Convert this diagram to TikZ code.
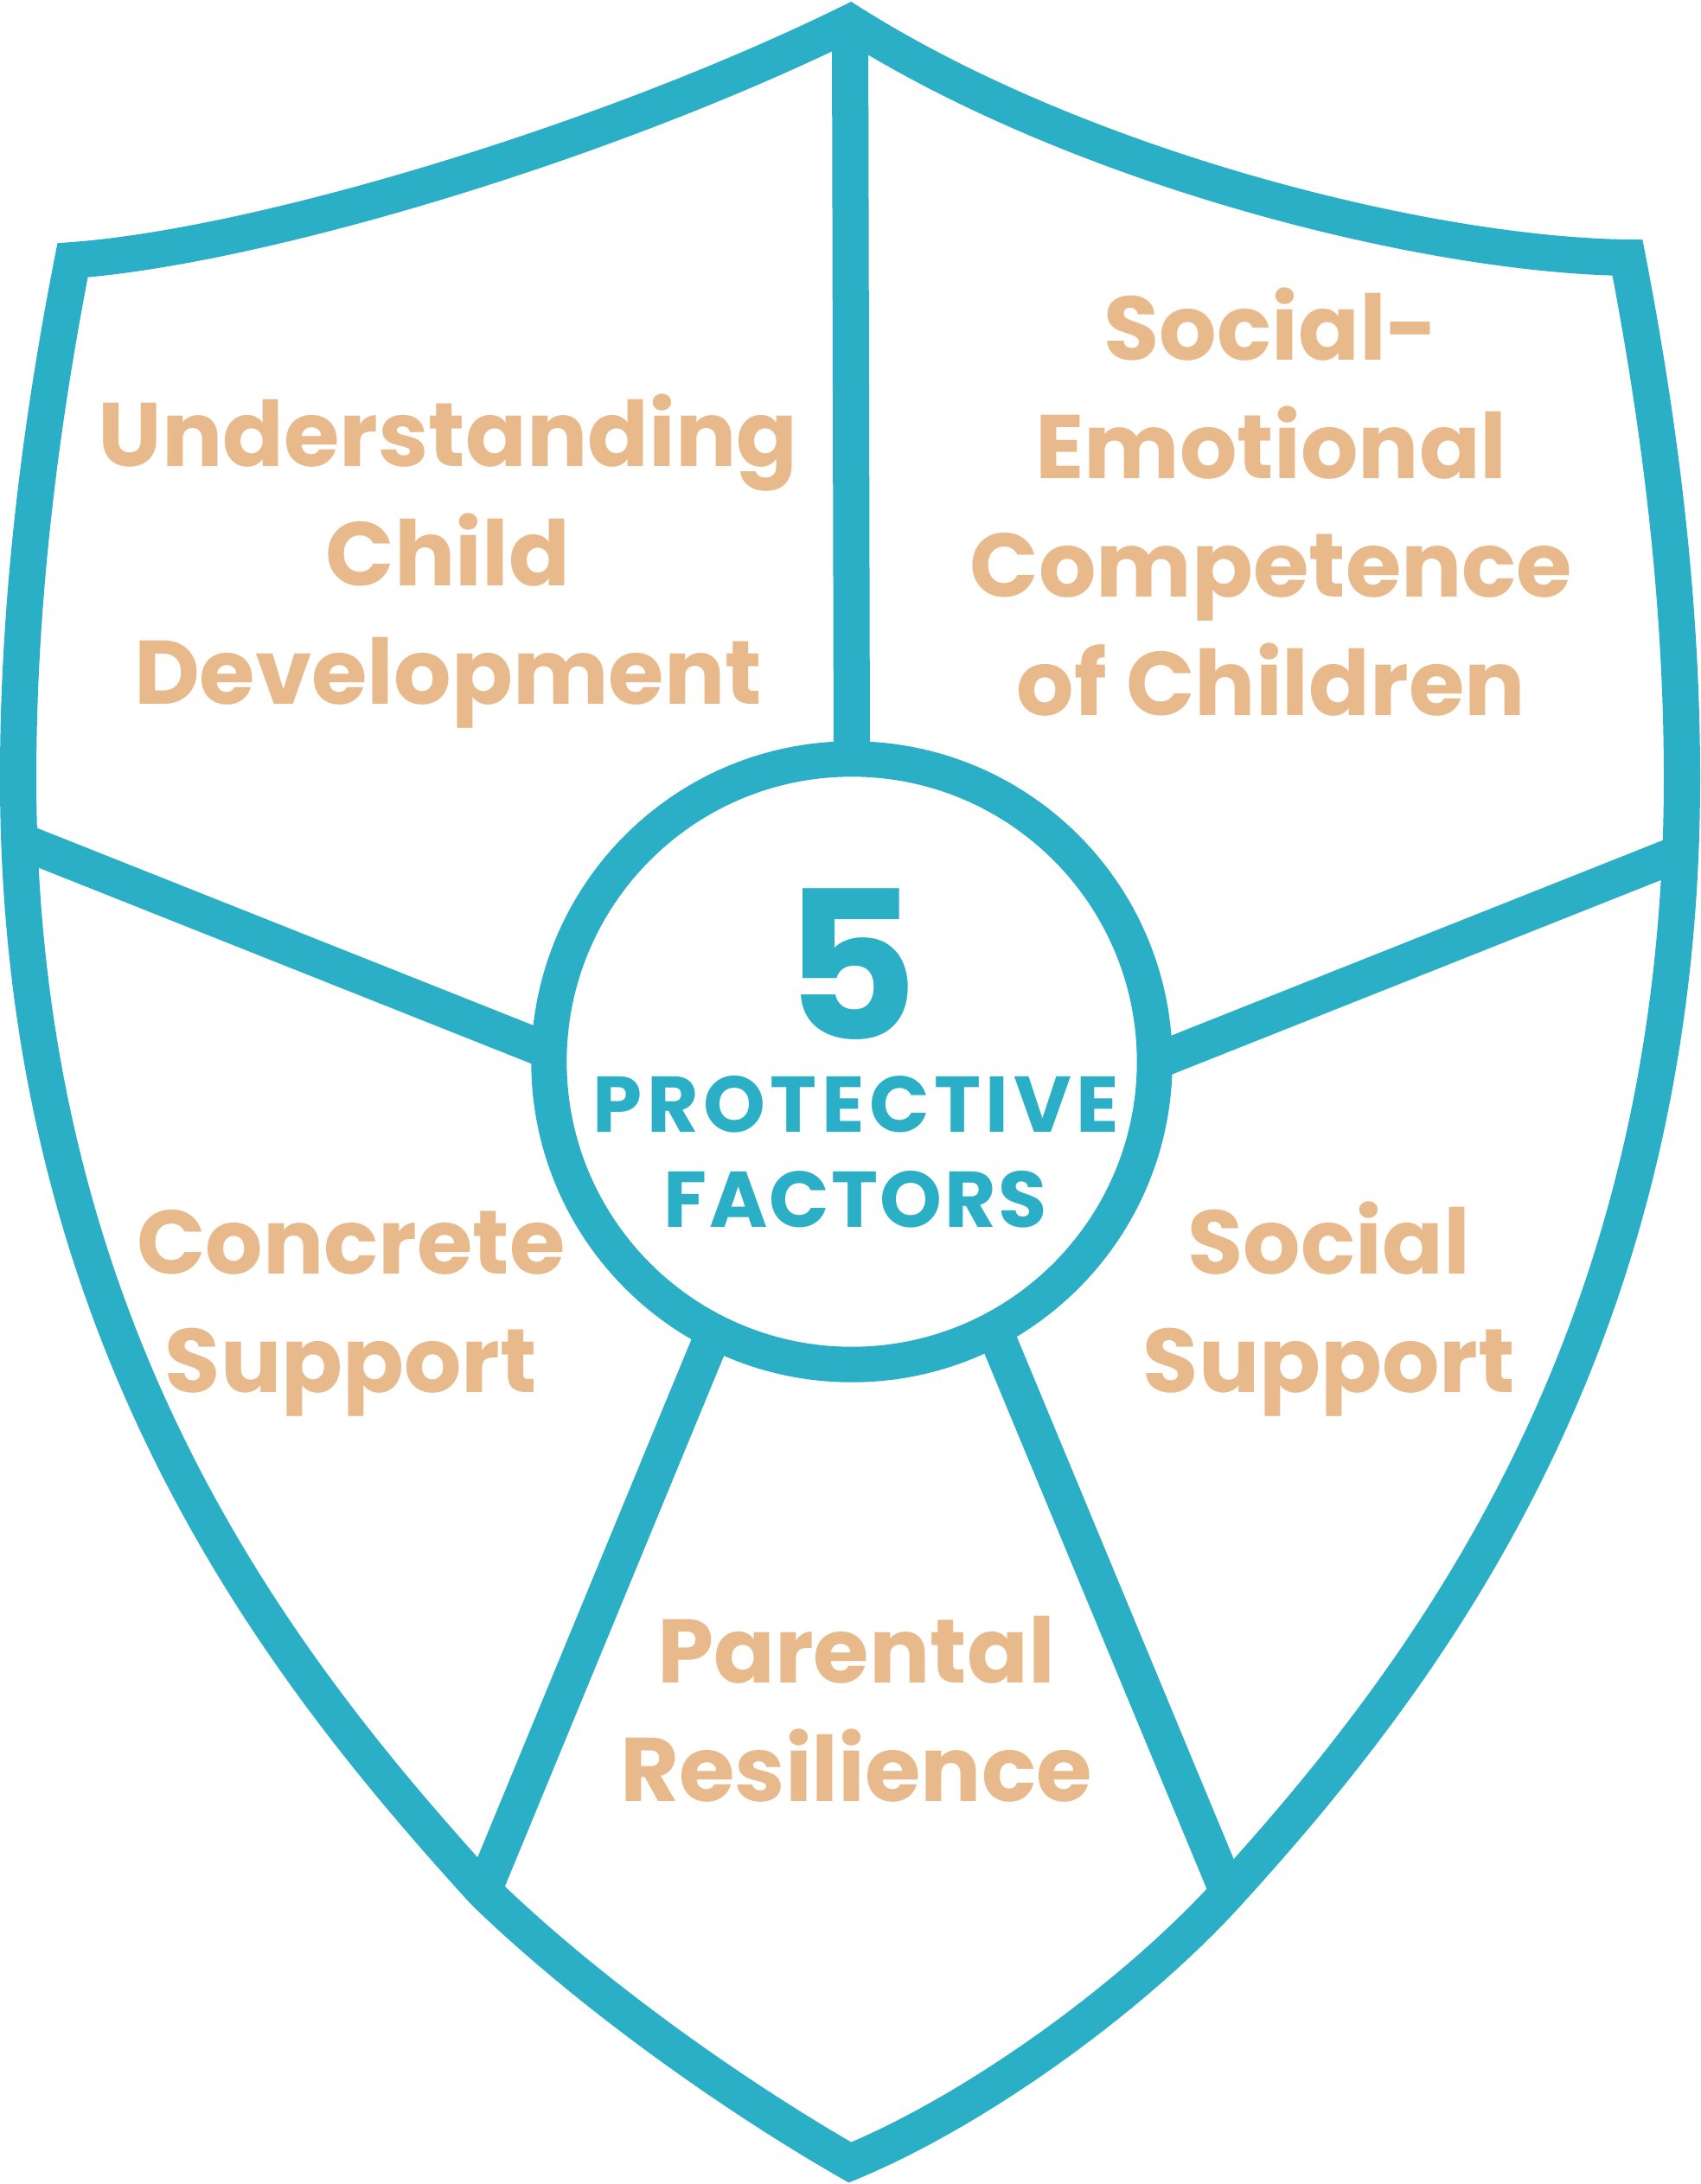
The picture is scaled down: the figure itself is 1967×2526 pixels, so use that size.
\documentclass[tikz,border=0pt]{standalone}
\usepackage{fontspec}
\setmainfont{Poppins}
\definecolor{shieldblue}{RGB}{43,175,199}
\definecolor{labeltan}{RGB}{232,185,138}
\begin{document}
\begin{tikzpicture}[x=0.01cm,y=-0.01cm,
  band/.style={draw=shieldblue,line width=4.2mm},
  lbl/.style={font=\fontsize{29.7}{36}\selectfont\bfseries,text=labeltan,inner sep=0pt,anchor=base},
  ctr/.style={font=\fontsize{26}{30}\selectfont\bfseries,text=shieldblue,inner sep=0pt,anchor=base}]
\path[use as bounding box,fill=white] (0,0) rectangle (1967,2526);
% key points of the shield
\coordinate (A)  at (983,26);
\coordinate (TL) at (84,301);
\coordinate (TR) at (1882,298);
\coordinate (LM) at (21,900);
\coordinate (RM) at (1945,900);
\coordinate (LS) at (22,972);
\coordinate (RS) at (1944,986);
\coordinate (J)  at (559,2187);
\coordinate (R)  at (1420,2189);
\coordinate (B)  at (983,2501);
% shield outline
\draw[band,line join=miter]
  (A) .. controls (1250,195) and (1650,295) .. (TR)
      .. controls (1921,500) and (1945,700) .. (RM)
      .. controls (1945,1550) and (1650,1936) .. (R)
      .. controls (1310,2310) and (1130,2440) .. (B)
      .. controls (850,2425) and (680,2305) .. (J)
      .. controls (329,1934) and (21,1550) .. (LM)
      .. controls (21,700) and (45,500) .. (TL)
      .. controls (300,285) and (700,165) .. cycle;
% centre ring
\node[circle,draw=shieldblue,line width=4.1mm,minimum size=7cm,inner sep=0pt,outer sep=0pt] (c) at (985,1228) {};
% dividers
\draw[band] (A) -- (c.90);
\draw[band] (LS) -- (c.178.8);
\draw[band] (RS) -- (c.-0.6);
\draw[band] (J) -- (c.243);
\draw[band] (R) -- (c.298);
% centre text
\node[font=\fontsize{68}{76}\selectfont\bfseries,text=shieldblue,inner sep=0pt,anchor=base,text depth=0pt] (five) at (984,1202) {5};
\node[ctr] (prot) at (990,1309) {\addfontfeature{LetterSpace=6}PROTECTIVE};
\node[ctr] (fact) at (989,1419) {\addfontfeature{LetterSpace=2.5}FACTORS};
% labels
\node[lbl] (u1) at (518,539) {Understanding};
\node[lbl] (u2) at (518,677) {Child};
\node[lbl] (u3) at (518,814) {Development};
\node[lbl] (s1) at (1470,416) {Social-};
\node[lbl] (s2) at (1470,553) {Emotional};
\node[lbl] (s3) at (1470,690) {Competence};
\node[lbl] (s4) at (1470,827) {of Children};
\node[lbl] (cs1) at (406,1473) {Concrete};
\node[lbl] (cs2) at (406,1610) {Support};
\node[lbl] (ss1) at (1537,1473) {Social};
\node[lbl] (ss2) at (1537,1610) {Support};
\node[lbl] (pr1) at (990,1946) {Parental};
\node[lbl] (pr2) at (990,2083) {Resilience};
\end{tikzpicture}
\end{document}
